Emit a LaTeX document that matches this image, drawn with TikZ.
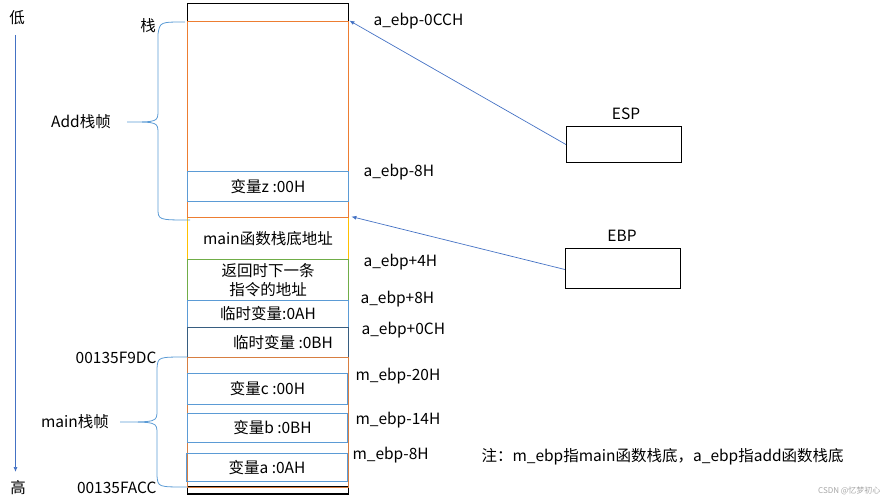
\documentclass[tikz,border=0pt]{standalone}
\usepackage{fontspec}
\setmainfont{Noto Sans CJK SC}
\usetikzlibrary{arrows.meta}
\definecolor{orng}{HTML}{ED7D31}
\definecolor{lblue}{HTML}{5B9BD5}
\definecolor{ylw}{HTML}{FFC000}
\definecolor{grn}{HTML}{70AD47}
\definecolor{ablue}{HTML}{4472C4}

\tikzset{
  every node/.style={font=\fontsize{15.5}{19}\selectfont},
  cell/.style={draw=#1, line width=1.8pt, minimum width=161pt, inner sep=0pt, align=center},
  regbox/.style={draw, line width=1.2pt, minimum width=115pt, inner sep=0pt},
  ptr/.style={ablue, line width=0.7pt, -{Latex[length=5pt,width=4pt]}},
  brace/.style={lblue, line width=0.8pt}
}

\begin{document}
\begin{tikzpicture}[x=1pt,y=-1pt]
    \useasboundingbox (0,0) rectangle (893,500);
    \node[cell=black,line width=1.2pt,minimum height=18pt] (stktop) at (268,12.5) {};
    \node[cell=black,line width=1.2pt,minimum height=7pt] (stkbot) at (268,490.5) {};
    \node[cell=ylw,minimum height=42pt] (mebp) at (268,238.5) {main函数栈底地址};
    \node[cell=orng,minimum height=196pt] (addfr) at (268,119.5) {};
    \node[cell=lblue,minimum height=30pt] (z) at (268,186.5) {变量z :00H};
    \node[cell=grn,minimum height=41pt] (ret) at (268,280) {返回时下一条\\指令的地址};
    \node[cell=lblue,minimum height=27pt] (t1) at (268,314) {临时变量:0AH};
    \node[cell=lblue!60!black,minimum height=30pt] (t2) at (268,342.5) {\hspace{30pt}临时变量 :0BH};
    \node[cell=orng!80!gray,minimum height=130pt] (mainfr) at (268,422.5) {};
    \node[cell=lblue,minimum width=160pt,minimum height=31pt] (c) at (267.5,389) {变量c :00H};
    \node[cell=lblue,minimum width=160pt,minimum height=29pt] (b) at (267.5,428) {\hspace{10pt}变量b :0BH};
    \node[cell=lblue,minimum height=28pt] (a) at (267,467.5) {变量a :0AH};

    \node[anchor=west] (l1) at (370,21) {a\_ebp-0CCH};
    \node[anchor=west] (l2) at (360,172) {a\_ebp-8H};
    \node[anchor=west] (l3) at (360,262) {a\_ebp+4H};
    \node[anchor=west] (l4) at (357,299) {a\_ebp+8H};
    \node[anchor=west] (l5) at (358,330) {a\_ebp+0CH};
    \node[anchor=west] (l6) at (352,376) {m\_ebp-20H};
    \node[anchor=west] (l7) at (352,420) {m\_ebp-14H};
    \node[anchor=west] (l8) at (349,455) {m\_ebp-8H};

    \node[regbox,minimum height=36pt] (esp) at (624,144.5) {};
    \node (esplab) at (626,114) {ESP};
    \node[regbox,minimum height=40pt] (ebp) at (623,268.5) {};
    \node (ebplab) at (622,236) {EBP};
    \draw[ptr] (esp.west) -- (addfr.north east);
    \draw[ptr] ([yshift=-1pt]ebp.west) -- ([xshift=2pt]mebp.north east);

    \node (lo) at (17,18) {低};
    \node (hi) at (18,488) {高};
    \draw[ptr] (15.5,35) -- (15.5,472);

    \node (zhan) at (148,26) {栈};
    \node (addlab) at (81,122) {Add栈帧};
    \coordinate (addtip) at (127,122);
    \draw[brace] (185,22) .. controls (160,22) .. (158,34) -- (158,110)
        .. controls (158,122) .. (addtip) .. controls (158,122) .. (158,134)
        -- (158,208) .. controls (158,220) .. (190,220);

    \node[anchor=east] (top) at (160,358) {00135F9DC};
    \node[anchor=east] (bot) at (160,488) {00135FACC};
    \node (mainlab) at (75,422) {main栈帧};
    \coordinate (maintip) at (120,422);
    \draw[brace] (187,357) .. controls (158,357) .. (157,368) -- (157,410)
        .. controls (157,422) .. (maintip) .. controls (157,422) .. (157,434)
        -- (157,476) .. controls (158,487) .. (187,487);

    \node[anchor=west] (note) at (478,457) {注：m\_ebp指main函数栈底，a\_ebp指add函数栈底};
    \node[anchor=east,font=\fontsize{8}{10}\selectfont,gray!70] (wm) at (884,491) {CSDN @忆梦初心};
\end{tikzpicture}
\end{document}
